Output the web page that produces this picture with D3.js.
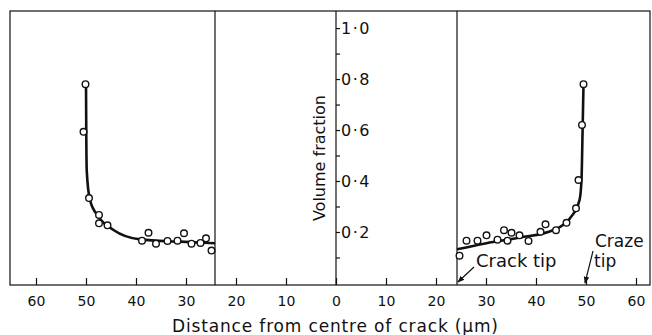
<!DOCTYPE html>
<html>
<head>
<meta charset="utf-8">
<script src="https://cdn.jsdelivr.net/npm/d3@7"></script>
<style>
  body { margin: 0; background: #fff; }
  svg { display: block; }
  text { font-family: 'DejaVu Sans', sans-serif; fill: #111; }
</style>
</head>
<body>
<div id="chart"></div>
<script>
// measured points, distance from crack centre (um, negative = left half) and volume fraction
var leftPointDist = [-50.1, -50.5, -49.4, -47.4, -47.4, -45.7, -38.8, -37.5, -36.0, -33.7, -31.7, -30.4, -28.9, -27.1, -26.0, -24.9];
var leftPointFrac = [0.78, 0.593, 0.333, 0.267, 0.234, 0.226, 0.166, 0.197, 0.154, 0.165, 0.166, 0.195, 0.154, 0.157, 0.175, 0.127];
var rightPointDist = [49.5, 49.2, 48.5, 48.0, 46.1, 44.0, 41.9, 40.9, 38.5, 36.7, 35.1, 33.6, 34.3, 32.3, 30.1, 28.3, 26.1, 24.7];
var rightPointFrac = [0.78, 0.62, 0.404, 0.293, 0.236, 0.207, 0.23, 0.201, 0.165, 0.187, 0.197, 0.207, 0.166, 0.170, 0.187, 0.166, 0.166, 0.107];

// fitted curves
var leftCurveDist = [-50.0, -49.95, -49.85, -49.2, -47.5, -44.5, -39.2, -31.2, -24.2];
var leftCurveFrac = [0.78, 0.60, 0.44, 0.325, 0.26, 0.208, 0.171, 0.162, 0.156];
var rightCurveDist = [24.2, 30.1, 36.8, 43.5, 46.8, 48.7, 49.1, 49.3, 49.5];
var rightCurveFrac = [0.132, 0.156, 0.178, 0.208, 0.254, 0.325, 0.404, 0.58, 0.78];

var crackTip = 24.2;
var crazeTip = 49.8;

var xTickValues = [-60, -50, -40, -30, -20, -10, 0, 10, 20, 30, 40, 50, 60];
var yTickValues = [0.1, 0.2, 0.3, 0.4, 0.5, 0.6, 0.7, 0.8, 0.9, 1.0];
var yTickLabels = ['', '0·2', '', '0·4', '', '0·6', '', '0·8', '', '1·0'];

var width = 652, height = 335;

var x = d3.scaleLinear().domain([-65.2, 62.8]).range([10, 650]);
var y = d3.scaleLinear().domain([-0.008, 1.067]).range([285, 11]);

var svg = d3.select('#chart').append('svg')
  .attr('width', width)
  .attr('height', height);

var x0 = x.range()[0], x1 = x.range()[1];
var yTop = y.range()[1], yBottom = y.range()[0];

// frame
svg.append('rect')
  .attr('x', x0)
  .attr('y', yTop)
  .attr('width', x1 - x0)
  .attr('height', yBottom - yTop)
  .attr('fill', 'none')
  .attr('stroke', '#111')
  .attr('stroke-width', 1.2);

// crack tip dividers
[-crackTip, crackTip].forEach(function (d) {
  svg.append('line')
    .attr('x1', x(d)).attr('x2', x(d))
    .attr('y1', yTop).attr('y2', yBottom)
    .attr('stroke', '#111')
    .attr('stroke-width', 1.2);
});

// x axis
var xAxis = svg.append('g')
  .attr('transform', 'translate(0,' + yBottom + ')')
  .call(d3.axisBottom(x)
    .tickValues(xTickValues)
    .tickSize(-7)
    .tickPadding(11)
    .tickFormat(function (d) { return Math.abs(d); }));
xAxis.select('.domain').remove();
xAxis.selectAll('line').attr('stroke', '#111').attr('stroke-width', 1.2);
xAxis.selectAll('text')
  .attr('font-family', "'DejaVu Sans', sans-serif")
  .attr('font-size', 14)
  .attr('fill', '#111');

svg.append('text')
  .attr('x', 335)
  .attr('y', 332)
  .attr('text-anchor', 'middle')
  .attr('font-size', 17)
  .attr('textLength', 326)
  .attr('lengthAdjust', 'spacing')
  .text('Distance from centre of crack (\u00b5m)');

// y axis in the middle
var yAxis = svg.append('g')
  .attr('transform', 'translate(' + x(0) + ',0)')
  .call(d3.axisRight(y)
    .tickValues(yTickValues)
    .tickSize(4)
    .tickPadding(1)
    .tickFormat(function (d, i) { return yTickLabels[i]; }));
yAxis.select('.domain').remove();
yAxis.selectAll('line').attr('stroke', '#111').attr('stroke-width', 1.2);
yAxis.selectAll('text')
  .attr('font-family', "'DejaVu Sans', sans-serif")
  .attr('font-size', 16)
  .attr('letter-spacing', 1.5)
  .attr('fill', '#111');

svg.append('line')
  .attr('x1', x(0)).attr('x2', x(0))
  .attr('y1', yTop).attr('y2', yBottom)
  .attr('stroke', '#111')
  .attr('stroke-width', 1.2);

svg.append('text')
  .attr('transform', 'translate(325,' + y(0.49) + ') rotate(-90)')
  .attr('text-anchor', 'middle')
  .attr('font-size', 16)
  .text('Volume fraction');

// curves
var line = d3.line()
  .x(function (d) { return x(d[0]); })
  .y(function (d) { return y(d[1]); })
  .curve(d3.curveMonotoneX);

[[leftCurveDist, leftCurveFrac], [rightCurveDist, rightCurveFrac]].forEach(function (c) {
  svg.append('path')
    .datum(d3.zip(c[0], c[1]))
    .attr('d', line)
    .attr('fill', 'none')
    .attr('stroke', '#111')
    .attr('stroke-width', 2.6);
});

// points
var points = d3.zip(leftPointDist, leftPointFrac).concat(d3.zip(rightPointDist, rightPointFrac));
svg.append('g')
  .selectAll('circle')
  .data(points)
  .enter().append('circle')
  .attr('cx', function (d) { return x(d[0]); })
  .attr('cy', function (d) { return y(d[1]); })
  .attr('r', 3.3)
  .attr('fill', '#fff')
  .attr('stroke', '#111')
  .attr('stroke-width', 1.4);

// annotations
svg.append('defs').append('marker')
  .attr('id', 'arrow')
  .attr('viewBox', '0 0 10 10')
  .attr('refX', 9)
  .attr('refY', 5)
  .attr('markerWidth', 7)
  .attr('markerHeight', 7)
  .attr('markerUnits', 'userSpaceOnUse')
  .attr('orient', 'auto')
  .append('path')
  .attr('d', 'M0,1L10,5L0,9z')
  .attr('fill', '#111');

var crackX = x(crackTip) + 1, crazeX = x(crazeTip);

svg.append('line')
  .attr('x1', crackX + 16).attr('y1', yBottom - 18)
  .attr('x2', crackX).attr('y2', yBottom - 3)
  .attr('stroke', '#111')
  .attr('stroke-width', 1.2)
  .attr('marker-end', 'url(#arrow)');

svg.append('text')
  .attr('x', crackX + 18)
  .attr('y', yBottom - 18)
  .attr('font-size', 18)
  .text('Crack tip');

svg.append('line')
  .attr('x1', crazeX + 8).attr('y1', yBottom - 34)
  .attr('x2', crazeX).attr('y2', yBottom - 2)
  .attr('stroke', '#111')
  .attr('stroke-width', 1.2)
  .attr('marker-end', 'url(#arrow)');

svg.append('text')
  .attr('x', crazeX + 10)
  .attr('y', yBottom - 38)
  .attr('font-size', 17)
  .text('Craze');

svg.append('text')
  .attr('x', crazeX + 9)
  .attr('y', yBottom - 18)
  .attr('font-size', 17)
  .text('tip');
</script>
</body>
</html>
